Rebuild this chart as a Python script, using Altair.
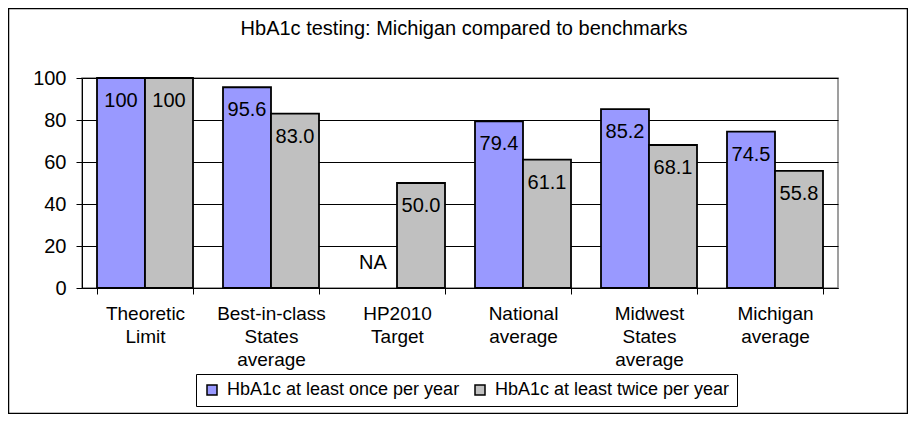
import altair as alt
import pandas as pd

categories = ["Theoretic|Limit", "Best-in-class|States|average", "HP2010|Target",
              "National|average", "Midwest|States|average", "Michigan|average"]
series = ["HbA1c at least once per year", "HbA1c at least twice per year"]
once_values = [100, 95.6, None, 79.4, 85.2, 74.5]
twice_values = [100, 83.0, 50.0, 61.1, 68.1, 55.8]
once_labels = ["100", "95.6", "NA", "79.4", "85.2", "74.5"]
twice_labels = ["100", "83.0", "50.0", "61.1", "68.1", "55.8"]
colors = ["#9999FF", "#C0C0C0"]
y_ticks = [0, 20, 40, 60, 80, 100]

FONT = "Liberation Sans"

rows = []
for s, vals, labs in [(series[0], once_values, once_labels), (series[1], twice_values, twice_labels)]:
    for c, v, l in zip(categories, vals, labs):
        rows.append({"category": c, "series": s, "value": v, "label": l,
                     "ypos": v if v is not None else 0, "na": v is None})
df = pd.DataFrame(rows)

x_enc = alt.X("category:N", sort=categories,
              scale=alt.Scale(paddingInner=0.238, paddingOuter=0.119),
              axis=alt.Axis(title=None, labelExpr="split(datum.label, '|')", tickBand="extent",
                            labelAngle=0, tickSize=6, tickColor="black", domainColor="black",
                            labelFontSize=19, labelFont=FONT, labelColor="black",
                            labelPadding=10, labelLineHeight=23, labelBaseline="top",
                            grid=False))
xo_enc = alt.XOffset("series:N", sort=series, scale=alt.Scale(paddingInner=0, paddingOuter=0))
y_axis = alt.Axis(title=None, values=y_ticks, grid=True, gridColor="black", gridWidth=1,
                  tickSize=6, tickColor="black", domainColor="black",
                  labelFontSize=20, labelFont=FONT, labelColor="black", labelPadding=10)

base = alt.Chart(df)

bars = base.mark_bar(stroke="black", strokeWidth=1.8).encode(
    x=x_enc,
    xOffset=xo_enc,
    y=alt.Y("value:Q", scale=alt.Scale(domain=[0, 100], nice=False), axis=y_axis),
    color=alt.Color("series:N", sort=series,
                    scale=alt.Scale(domain=series, range=colors),
                    legend=alt.Legend(orient="none", legendX=114, legendY=296,
                                      direction="horizontal", title=None,
                                      strokeColor="black", fillColor="white", padding=7,
                                      symbolType="square", symbolSize=100,
                                      symbolStrokeColor="black", symbolStrokeWidth=1.5,
                                      labelFontSize=18, labelFont=FONT, labelColor="black",
                                      labelLimit=0, columnPadding=11, labelOffset=6)),
)

value_text = base.transform_filter("!datum.na").mark_text(
    baseline="alphabetic", dy=29, fontSize=20, font=FONT, color="black"
).encode(x=alt.X("category:N", sort=categories), xOffset=xo_enc,
         y=alt.Y("ypos:Q"), text="label:N")

na_text = base.transform_filter("datum.na").mark_text(
    baseline="alphabetic", dy=-19, fontSize=20, font=FONT, color="black"
).encode(x=alt.X("category:N", sort=categories), xOffset=xo_enc,
         y=alt.Y("ypos:Q"), text="label:N")

frame = alt.Chart(pd.DataFrame({"a": [0]})).mark_rect(
    fill=None, stroke="black", strokeWidth=1.5
).encode(x=alt.value(-73.5), x2=alt.value(825.5), y=alt.value(-69.5), y2=alt.value(335.5))

chart = alt.layer(bars, value_text, na_text, frame).properties(
    width=756, height=210,
    padding={"left": 74, "top": 70, "right": 70, "bottom": 126},
    autosize=alt.AutoSizeParams(type="none"),
    title=alt.Title("HbA1c testing: Michigan compared to benchmarks", fontSize=20, font=FONT,
                    fontWeight="normal", color="black", anchor="middle", frame="group",
                    baseline="alphabetic", offset=-47, dx=4),
).configure_view(stroke="#808080", strokeWidth=1.5)

chart.save("out.html", embed_options={"renderer": "svg", "actions": False})
